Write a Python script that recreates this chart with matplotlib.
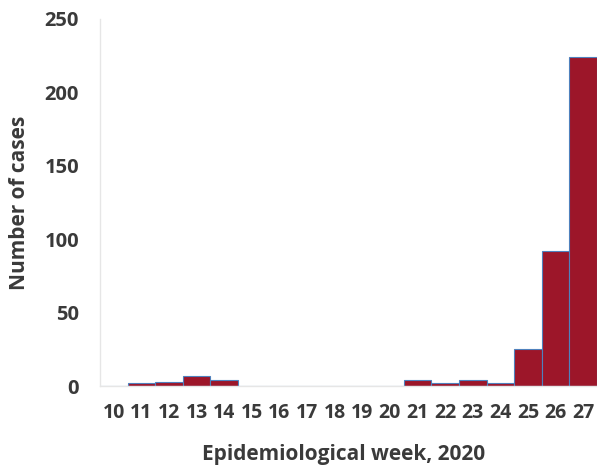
import matplotlib
matplotlib.use("Agg")
import matplotlib.pyplot as plt

weeks = [10, 11, 12, 13, 14, 15, 16, 17, 18, 19, 20, 21, 22, 23, 24, 25, 26, 27]
cases = [0, 2, 3, 7, 4, 0, 0, 0, 0, 0, 0, 4, 2, 4, 2, 25, 92, 224]
y_ticks = [0, 50, 100, 150, 200, 250]

plt.rcParams['font.family'] = ['Open Sans', 'DejaVu Sans']

fig = plt.figure(figsize=(5.97, 4.73), dpi=100)
ax = fig.add_axes([100/597, 87/473, 497/597, 367/473])

ax.bar(weeks, cases, width=1.0, color='#9c1629', edgecolor='#4f81bd', linewidth=0.8)

ax.set_xlim(9.5, 27.5)
ax.set_ylim(0, 250)
ax.set_xticks(weeks)
ax.set_xticklabels([str(w) for w in weeks])
ax.set_yticks(y_ticks)

for s in ['top', 'right']:
    ax.spines[s].set_visible(False)
for s in ['left', 'bottom']:
    ax.spines[s].set_color('#e6e6e6')
    ax.spines[s].set_linewidth(1.0)

ax.tick_params(axis='both', length=0, colors='#3a3a3a')
ax.tick_params(axis='x', labelsize=14, pad=12)
ax.tick_params(axis='y', labelsize=14.5, pad=15)
for lab in ax.get_xticklabels() + ax.get_yticklabels():
    lab.set_fontweight('bold')

ax.set_xlabel('Epidemiological week, 2020', fontsize=15, fontweight='bold', color='#3a3a3a')
ax.set_ylabel('Number of cases', fontsize=15, fontweight='bold', color='#3a3a3a')
ax.xaxis.set_label_coords(0.49, -0.188)
ax.yaxis.set_label_coords(-0.161, 0.5)
ax.xaxis.label.set_va('center')
ax.yaxis.label.set_va('center')

fig.savefig('out.png', dpi=100)
